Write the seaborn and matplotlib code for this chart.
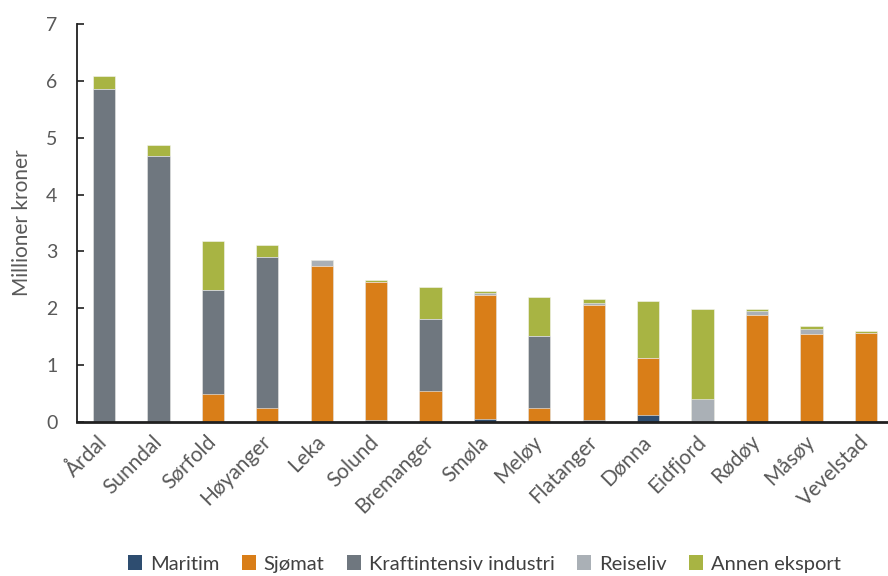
import numpy as np
import pandas as pd
import matplotlib
matplotlib.use("Agg")
import matplotlib.pyplot as plt
import seaborn as sns
from matplotlib.patches import Patch

kommuner = ["Årdal", "Sunndal", "Sørfold", "Høyanger", "Leka", "Solund", "Bremanger",
            "Smøla", "Meløy", "Flatanger", "Dønna", "Eidfjord", "Rødøy", "Måsøy", "Vevelstad"]
maritim  = [0.00, 0.00, 0.00, 0.00, 0.00, 0.04, 0.00, 0.06, 0.00, 0.04, 0.12, 0.00, 0.00, 0.00, 0.00]
sjomat   = [0.00, 0.00, 0.49, 0.25, 2.75, 2.42, 0.54, 2.17, 0.24, 2.01, 1.00, 0.00, 1.89, 1.54, 1.56]
kraft    = [5.86, 4.67, 1.83, 2.66, 0.00, 0.00, 1.27, 0.00, 1.27, 0.00, 0.00, 0.00, 0.00, 0.00, 0.00]
reiseliv = [0.00, 0.00, 0.00, 0.00, 0.09, 0.00, 0.00, 0.04, 0.00, 0.04, 0.00, 0.40, 0.06, 0.09, 0.00]
annen    = [0.23, 0.21, 0.86, 0.20, 0.00, 0.03, 0.56, 0.03, 0.68, 0.07, 1.00, 1.58, 0.03, 0.05, 0.04]

series = ["Maritim", "Sjømat", "Kraftintensiv industri", "Reiseliv", "Annen eksport"]
colors = ["#2E4D70", "#D97E18", "#6F777F", "#AAB0B6", "#A8B443"]

sns.set_theme(style="white")
plt.rcParams["font.family"] = ["Lato", "DejaVu Sans"]

df = pd.DataFrame({"Kommune": kommuner, "Maritim": maritim, "Sjømat": sjomat,
                   "Kraftintensiv industri": kraft, "Reiseliv": reiseliv,
                   "Annen eksport": annen})
cum = df[series].cumsum(axis=1)

fig = plt.figure(figsize=(8.88, 5.76), dpi=100)
ax = fig.add_axes([0.0865, 0.2674, 0.913, 0.691])

for s, c in reversed(list(zip(series, colors))):
    sns.barplot(x=df["Kommune"], y=cum[s], color=c, ax=ax, width=0.41,
                saturation=1, linewidth=0.4, edgecolor="#f4f4f4")

ax.set_ylim(0, 7)
ax.set_yticks(range(0, 8))
ax.set_xlim(-0.5, 14.4)
ax.set_ylabel("Millioner kroner", fontsize=15, color="#595959", labelpad=10)
ax.set_xlabel("")
ax.tick_params(axis="y", labelsize=14, labelcolor="#595959", direction="in",
               length=5, width=1.2, color="#202020", left=True, pad=14)
ax.tick_params(axis="x", labelsize=15, labelcolor="#595959", length=0, pad=12)
plt.setp(ax.get_xticklabels(), rotation=45, ha="right", va="center", rotation_mode="anchor")
for sp in ["top", "right"]:
    ax.spines[sp].set_visible(False)
ax.spines["left"].set_color("#202020")
ax.spines["left"].set_linewidth(1.3)
ax.spines["bottom"].set_color("#202020")
ax.spines["bottom"].set_linewidth(2.0)

handles = [Patch(facecolor=c, edgecolor="none", label=s) for s, c in zip(series, colors)]
fig.legend(handles=handles, loc="lower left", bbox_to_anchor=(0.135, -0.008), ncol=5,
           frameon=False, fontsize=14.5, handlelength=0.7, handleheight=0.7,
           handletextpad=0.4, columnspacing=1.1, labelcolor="#404040",
           borderaxespad=0.2, borderpad=0.2)

fig.savefig("out.png", dpi=100)
